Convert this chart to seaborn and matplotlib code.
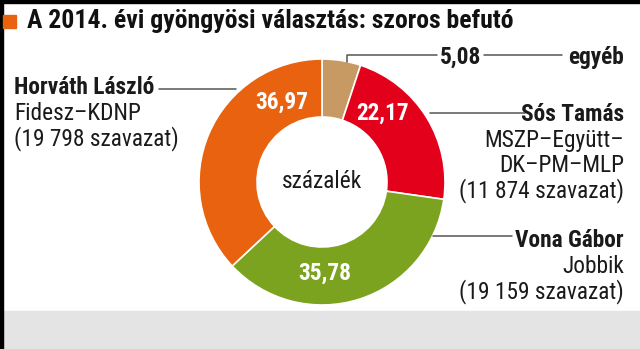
import matplotlib
matplotlib.use("Agg")
import matplotlib.pyplot as plt
from matplotlib import font_manager
import seaborn as sns

# ---- data ----
categories = ["egyéb", "Sós Tamás", "Vona Gábor", "Horváth László"]
shares = [5.08, 22.17, 35.78, 36.97]
share_labels = ["5,08", "22,17", "35,78", "36,97"]
parties = ["", "MSZP–Együtt–\nDK–PM–MLP", "Jobbik", "Fidesz–KDNP"]
votes = ["", "(11 874 szavazat)", "(19 159 szavazat)", "(19 798 szavazat)"]
colors = ["#c89a63", "#e2001a", "#7ba31f", "#e8620f"]
title = "A 2014. évi gyöngyösi választás: szoros befutó"
center_label = "százalék"

sns.set_theme(style="white")
names = {f.name for f in font_manager.fontManager.ttflist}
fam = [n for n in ["Roboto Condensed", "Roboto", "DejaVu Sans"] if n in names]
plt.rcParams["font.family"] = fam

W, H = 640, 349
fig = plt.figure(figsize=(W / 100, H / 100), dpi=100)
ax = fig.add_axes([0, 0, 1, 1])

cx, cy, R, ring = 322, 182, 123, 58
wedges, _ = ax.pie(shares, colors=colors, startangle=270, counterclock=True,
                   center=(cx, cy), radius=R, frame=True,
                   wedgeprops=dict(width=ring, edgecolor="white", linewidth=1.2))
ax.set_xlim(0, W)
ax.set_ylim(H, 0)
ax.set_aspect("auto")
ax.axis("off")

# frame decorations
ax.add_patch(plt.Rectangle((0, 0), W, 3, color="black", zorder=5))
ax.add_patch(plt.Rectangle((0, 0), 3, H, color="black", zorder=5))
ax.add_patch(plt.Rectangle((3, 311), W, H - 311, color="#e4e4e4", zorder=0))
ax.add_patch(plt.Rectangle((3, 15), 13, 13, color="#e8620f", zorder=5))

ax.text(27, 28, title, fontsize=18.5, fontweight="bold", color="#111111",
        ha="left", va="baseline")

fs = 16.8
ink = "#1a1a1a"
ax.text(cx, cy, center_label, fontsize=fs, ha="center", va="center", color=ink)

# percentages inside ring
pct_pos = {1: (383, 113), 2: (325, 273), 3: (282, 102)}
for i, (px, py) in pct_pos.items():
    ax.text(px, py, share_labels[i], fontsize=fs, fontweight="bold",
            color="white", ha="center", va="center")

lc = "#555555"
lw = 1.1
# egyéb
ax.plot([347, 347, 437], [62, 55, 55], color=lc, lw=lw)
ax.plot([484, 562], [55, 55], color=lc, lw=lw)
ax.text(461, 64, share_labels[0], fontsize=fs, fontweight="bold", color=ink,
        ha="center", va="baseline")
ax.text(624, 64, categories[0], fontsize=fs, fontweight="bold", color=ink,
        ha="right", va="baseline")

# Sós Tamás
ax.plot([430, 525], [113, 113], color=lc, lw=lw)
ax.text(624, 121, categories[1], fontsize=fs, fontweight="bold", color=ink,
        ha="right", va="baseline")
for k, line in enumerate(parties[1].split("\n")):
    ax.text(624, 147 + 25 * k, line, fontsize=fs, color=ink, ha="right", va="baseline")
ax.text(624, 197, votes[1], fontsize=fs, color=ink, ha="right", va="baseline")

# Vona Gábor
ax.plot([433, 512], [236, 236], color=lc, lw=lw)
ax.text(624, 247, categories[2], fontsize=fs, fontweight="bold", color=ink,
        ha="right", va="baseline")
ax.text(624, 273, parties[2], fontsize=fs, color=ink, ha="right", va="baseline")
ax.text(624, 298, votes[2], fontsize=fs, color=ink, ha="right", va="baseline")

# Horváth László
ax.plot([159, 236], [89, 89], color=lc, lw=lw)
ax.text(14, 94, categories[3], fontsize=fs, fontweight="bold", color=ink,
        ha="left", va="baseline")
ax.text(14, 120, parties[3], fontsize=fs, color=ink, ha="left", va="baseline")
ax.text(14, 145, votes[3], fontsize=fs, color=ink, ha="left", va="baseline")

fig.savefig("out.png", dpi=100, facecolor="white")
